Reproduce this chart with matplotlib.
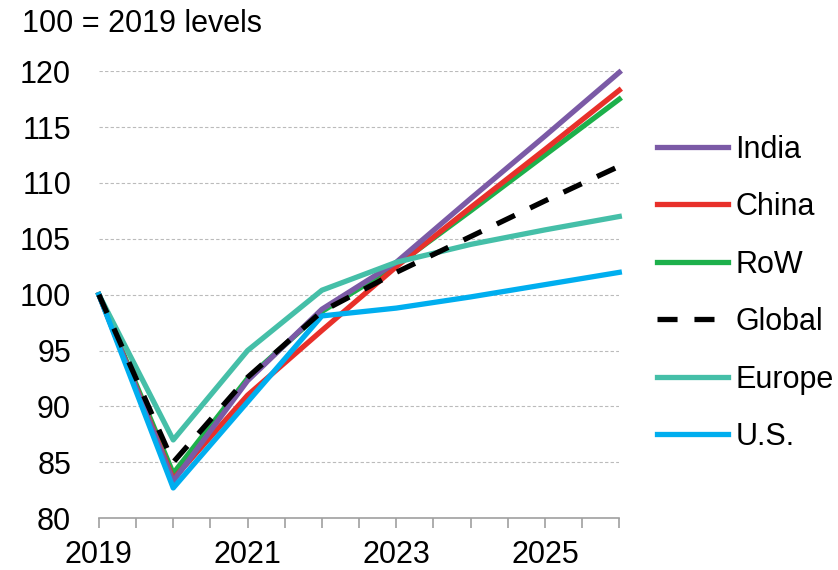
import numpy as np
import matplotlib.pyplot as plt

plt.rcParams['font.family'] = ['Liberation Sans', 'DejaVu Sans']

years = [2019, 2020, 2021, 2022, 2023, 2024, 2025, 2026]

india = [100, 83.3, 92.3, 98.7, 102.9, 108.6, 114.2, 119.9]
china = [100, 83.5, 91.0, 96.8, 102.5, 107.8, 113.0, 118.3]
row = [100, 84.0, 92.5, 98.5, 102.6, 107.5, 112.5, 117.5]
global_ = [100, 85.0, 92.6, 98.5, 102.0, 105.2, 108.4, 111.5]
europe = [100, 87.0, 95.0, 100.4, 102.9, 104.5, 105.8, 107.0]
us = [100, 82.7, 90.4, 98.1, 98.8, 99.8, 100.9, 102.0]

fig = plt.figure(figsize=(8.38, 5.70), dpi=100)
ax = fig.add_axes([0.118, 0.091, 0.621, 0.784])

lw = 3.8
ax.plot(years, row, color="#1DB04B", lw=lw, label="RoW", clip_on=False)
ax.plot(years, china, color="#E8302A", lw=lw, label="China", clip_on=False)
ax.plot(years, india, color="#7B5AA6", lw=lw, label="India", clip_on=False)
ax.plot(years, europe, color="#45BFA8", lw=lw, label="Europe", clip_on=False)
ax.plot(years, us, color="#00AEEF", lw=lw, label="U.S.", clip_on=False)
ax.plot(years, global_, color="black", lw=lw, dashes=(3.8, 3.2),
        label="Global", clip_on=False)

ax.set_xlim(2019, 2026)
ax.set_ylim(80, 120)
ax.set_yticks(np.arange(80, 121, 5))
half = np.arange(2019, 2026.01, 0.5)
ax.set_xticks(half)
ax.set_xticklabels([str(int(y)) if (y % 2 == 1) else "" for y in half])

ax.grid(axis="y", color="#bbbbbb", linestyle=(0, (3, 2)), linewidth=0.8)
ax.set_axisbelow(True)

for s in ["top", "right", "left"]:
    ax.spines[s].set_visible(False)
ax.spines["bottom"].set_color("#a0a0a0")
ax.spines["bottom"].set_linewidth(1.2)

ax.tick_params(axis="x", direction="out", length=7, width=1.2, color="#a0a0a0",
               labelsize=22, pad=9)
ax.tick_params(axis="y", length=0, labelsize=22, pad=20)

fig.text(0.026, 0.958, "100 = 2019 levels", fontsize=22, ha="left", va="center")

handles, labels = ax.get_legend_handles_labels()
order = ["India", "China", "RoW", "Global", "Europe", "U.S."]
hmap = dict(zip(labels, handles))
fig.legend([hmap[k] for k in order], order, loc="upper left",
           bbox_to_anchor=(0.784, 0.764), frameon=False, fontsize=22,
           handlelength=2.32, handletextpad=0.25, labelspacing=0.9,
           borderpad=0, borderaxespad=0)

fig.savefig("out.png", dpi=100)
